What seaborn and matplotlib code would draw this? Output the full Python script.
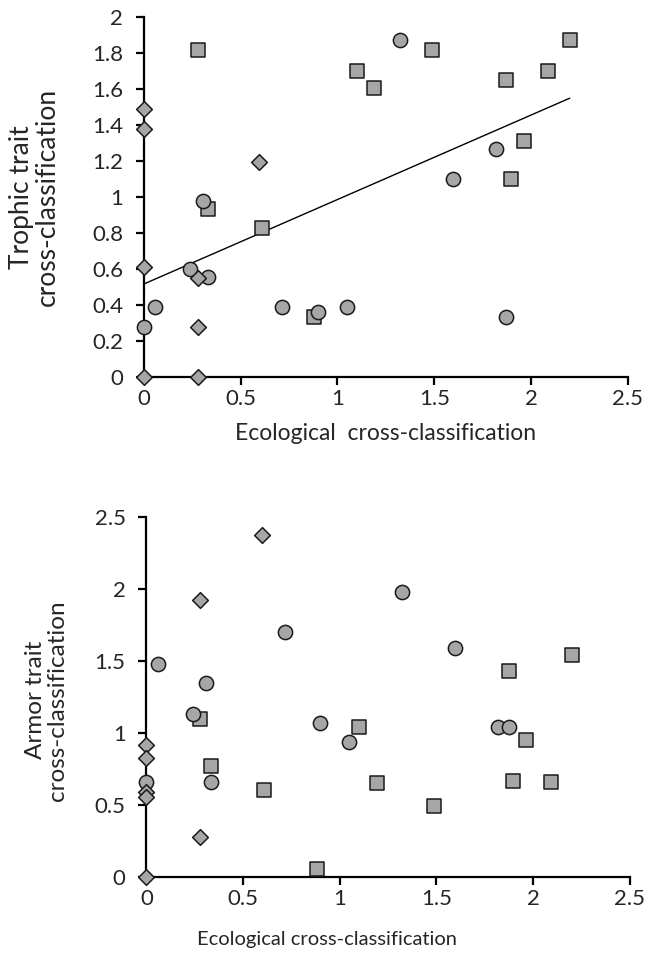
#Two scatter panels: trophic / armor trait vs ecological cross-classification

import numpy as np
import matplotlib
matplotlib.use('Agg')
import matplotlib.pyplot as plt
import pandas as pd
import seaborn as sns

#Data
#Squares
sq_x = [0.277, 0.332, 0.608, 0.880, 1.10, 1.19, 1.487, 1.873, 1.897, 1.964, 2.09, 2.20]
sq_trophic = [1.815, 0.932, 0.824, 0.333, 1.70, 1.605, 1.815, 1.648, 1.10, 1.308, 1.70, 1.87]
sq_armor = [1.095, 0.769, 0.602, 0.051, 1.042, 0.653, 0.493, 1.428, 0.667, 0.949, 0.655, 1.537]

#Circles
ci_x = [0.0, 0.057, 0.238, 0.307, 0.332, 0.715, 0.897, 1.047, 1.321, 1.597, 1.817, 1.873]
ci_trophic = [0.278, 0.389, 0.597, 0.978, 0.552, 0.389, 0.358, 0.389, 1.87, 1.10, 1.265, 0.33]
ci_armor = [0.655, 1.48, 1.128, 1.343, 0.655, 1.70, 1.069, 0.933, 1.975, 1.59, 1.042, 1.042]

#Diamonds (the two panels do not line up exactly, so each has its own x)
di_x_trophic = [0.0, 0.0, 0.0, 0.0, 0.277, 0.277, 0.277, 0.596]
di_trophic = [1.486, 1.374, 0.611, 0.0, 0.55, 0.278, 0.0, 1.191]
di_x_armor = [0.0, 0.0, 0.0, 0.0, 0.0, 0.276, 0.276, 0.596]
di_armor = [0.915, 0.822, 0.59, 0.551, 0.0, 1.92, 0.274, 2.375]

#Trend line of the top panel (end points)
trend_x = [0.0, 2.20]
trend_y = [0.515, 1.547]

x_ticks = [0, 0.5, 1, 1.5, 2, 2.5]
y_ticks_top = [0, 0.2, 0.4, 0.6, 0.8, 1, 1.2, 1.4, 1.6, 1.8, 2]
y_ticks_bottom = [0, 0.5, 1, 1.5, 2, 2.5]

sns.set_style('white')
plt.rcParams['font.family'] = ['Lato', 'DejaVu Sans']

fill = '#a6a6a6'
edge = '#1a1a1a'

def Panel(ax, groups, yticks, xlabel, xsize, xlab_pos, ylabel, ysize, ylab_pos):
    
    """
    Panel draws the three marker groups on one axes and styles it.
    """
    
    for gx, gy, marker, size in groups:
        df = pd.DataFrame({'x': gx, 'y': gy})
        sns.scatterplot(data=df, x='x', y='y', marker=marker, s=size,
                        color=fill, edgecolor=edge, linewidth=1.1, ax=ax,
                        zorder=3, clip_on=False)
    ax.set_xlim(0, 2.5)
    ax.set_ylim(yticks[0], yticks[-1])
    ax.set_xticks(x_ticks)
    ax.set_xticklabels(['0', '0.5', '1', '1.5', '2', '2.5'])
    ax.set_yticks(yticks)
    ax.set_yticklabels([('%g' % t) for t in yticks])
    for s in ['top', 'right']:
        ax.spines[s].set_visible(False)
    for s in ['left', 'bottom']:
        ax.spines[s].set_color('black')
        ax.spines[s].set_linewidth(1.6)
    ax.tick_params(axis='both', direction='out', length=6, width=1.6,
                   color='black', labelsize=16, left=True, bottom=True)
    ax.tick_params(axis='x', pad=3)
    ax.tick_params(axis='y', pad=9)
    ax.set_xlabel(xlabel, fontsize=xsize)
    ax.set_ylabel(ylabel, fontsize=ysize, linespacing=1.05)
    ax.xaxis.set_label_coords(*xlab_pos)
    ax.yaxis.set_label_coords(*ylab_pos)

fig = plt.figure(figsize=(6.54, 9.76), dpi=100)
ax1 = fig.add_axes([0.220, 0.614, 0.740, 0.369])
ax2 = fig.add_axes([0.224, 0.1017, 0.739, 0.3689])

#Top panel
Panel(ax1,
      [(sq_x, sq_trophic, 's', 95), (ci_x, ci_trophic, 'o', 105),
       (di_x_trophic, di_trophic, 'D', 64)],
      y_ticks_top, 'Ecological  cross-classification', 16.5, (0.5, -0.128),
      'Trophic trait\ncross-classification', 19, (-0.174, 0.5))
sns.lineplot(x=trend_x, y=trend_y, color='black', linewidth=1.0, ax=ax1,
             zorder=2)

#Bottom panel
Panel(ax2,
      [(sq_x, sq_armor, 's', 95), (ci_x, ci_armor, 'o', 105),
       (di_x_armor, di_armor, 'D', 64)],
      y_ticks_bottom, 'Ecological cross-classification', 14.5, (0.373, -0.15),
      'Armor trait\ncross-classification', 17.5, (-0.163, 0.49))

fig.savefig('out.png', dpi=100)
